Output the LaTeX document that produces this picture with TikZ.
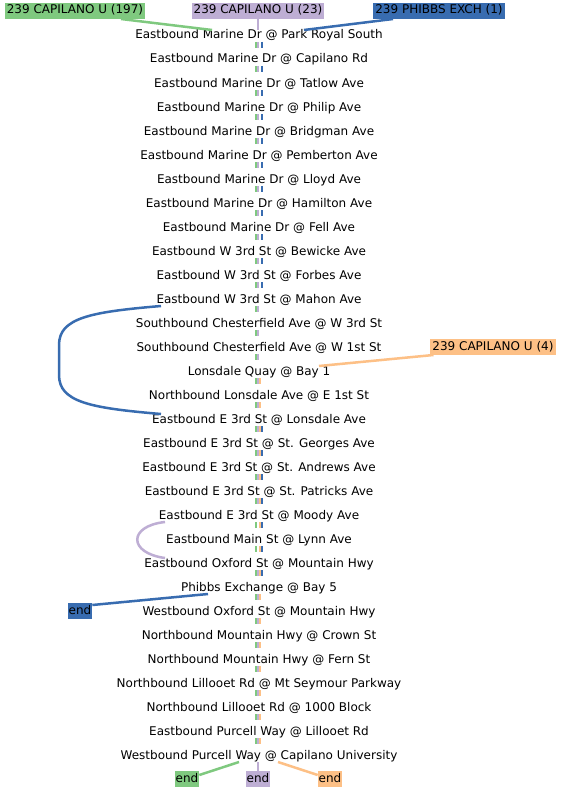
\documentclass[tikz,border=0pt]{standalone}
\usepackage{fontspec}
\setmainfont{DejaVu Sans}
\usepackage{xcolor}
\usepackage{tikz}
\definecolor{clrGreen} {HTML}{7FC97F}
\definecolor{clrPurple}{HTML}{BEAED4}
\definecolor{clrOrange}{HTML}{FDC086}
\definecolor{clrBlue}  {HTML}{386CB0}
\usetikzlibrary{positioning}

\begin{document}
\begin{tikzpicture}[
  x=1pt, y=-1pt,                             % pixel-like coordinates
  node distance   = 12pt,                    % rows 24pt apart
  every node/.style = {font=\fontsize{12}{14}\selectfont, outer sep=0pt},
  %--- node styles ---------------------------------------------------
  stopst/.style   = {inner xsep=0pt, inner ysep=0pt,
                     text height=9pt, text depth=3pt},
  labst/.style    = {inner xsep=2pt, inner ysep=2pt,
                     text height=9pt, text depth=3pt},
  %--- route styles --------------------------------------------------
  gline/.style    = {draw=clrGreen,  line width=2pt},
  pline/.style    = {draw=clrPurple, line width=2pt},
  oline/.style    = {draw=clrOrange, line width=2pt},
  bline/.style    = {draw=clrBlue,   line width=2pt},
  segst/.style    = {shorten >=6pt},
  wayst/.style    = {line width=2.5pt},
]

\useasboundingbox[fill=white] (0,0) rectangle (561,792);

% ---- Stops --------------------------------------------------------
\node[stopst] (s1) at (259,36) {Eastbound Marine Dr @ Park Royal South};
\node[stopst, below=of s1]  (s2)  {Eastbound Marine Dr @ Capilano Rd};
\node[stopst, below=of s2]  (s3)  {Eastbound Marine Dr @ Tatlow Ave};
\node[stopst, below=of s3]  (s4)  {Eastbound Marine Dr @ Philip Ave};
\node[stopst, below=of s4]  (s5)  {Eastbound Marine Dr @ Bridgman Ave};
\node[stopst, below=of s5]  (s6)  {Eastbound Marine Dr @ Pemberton Ave};
\node[stopst, below=of s6]  (s7)  {Eastbound Marine Dr @ Lloyd Ave};
\node[stopst, below=of s7]  (s8)  {Eastbound Marine Dr @ Hamilton Ave};
\node[stopst, below=of s8]  (s9)  {Eastbound Marine Dr @ Fell Ave};
\node[stopst, below=of s9]  (s10) {Eastbound W 3rd St @ Bewicke Ave};
\node[stopst, below=of s10] (s11) {Eastbound W 3rd St @ Forbes Ave};
\node[stopst, below=of s11] (s12) {Eastbound W 3rd St @ Mahon Ave};
\node[stopst, below=of s12] (s13) {Southbound Chesterfield Ave @ W 3rd St};
\node[stopst, below=of s13] (s14) {Southbound Chesterfield Ave @ W 1st St};
\node[stopst, below=of s14] (s15) {Lonsdale Quay @ Bay 1};
\node[stopst, below=of s15] (s16) {Northbound Lonsdale Ave @ E 1st St};
\node[stopst, below=of s16] (s17) {Eastbound E 3rd St @ Lonsdale Ave};
\node[stopst, below=of s17] (s18) {Eastbound E 3rd St @ St. Georges Ave};
\node[stopst, below=of s18] (s19) {Eastbound E 3rd St @ St. Andrews Ave};
\node[stopst, below=of s19] (s20) {Eastbound E 3rd St @ St. Patricks Ave};
\node[stopst, below=of s20] (s21) {Eastbound E 3rd St @ Moody Ave};
\node[stopst, below=of s21] (s22) {Eastbound Main St @ Lynn Ave};
\node[stopst, below=of s22] (s23) {Eastbound Oxford St @ Mountain Hwy};
\node[stopst, below=of s23] (s24) {Phibbs Exchange @ Bay 5};
\node[stopst, below=of s24] (s25) {Westbound Oxford St @ Mountain Hwy};
\node[stopst, below=of s25] (s26) {Northbound Mountain Hwy @ Crown St};
\node[stopst, below=of s26] (s27) {Northbound Mountain Hwy @ Fern St};
\node[stopst, below=of s27] (s28) {Northbound Lillooet Rd @ Mt Seymour Parkway};
\node[stopst, below=of s28] (s29) {Northbound Lillooet Rd @ 1000 Block};
\node[stopst, below=of s29] (s30) {Eastbound Purcell Way @ Lillooet Rd};
\node[stopst, below=of s30] (s31) {Westbound Purcell Way @ Capilano University};

% ---- Route starts and ends ----------------------------------------
\node[labst, fill=clrGreen]  (lgreen)  at (75,11)   {239 CAPILANO U (197)};
\node[labst, fill=clrPurple] (lpurple) at (258,11)  {239 CAPILANO U (23)};
\node[labst, fill=clrBlue]   (lblue)   at (439,11)  {239 PHIBBS EXCH (1)};
\node[labst, fill=clrOrange] (lorange) at (493,347) {239 CAPILANO U (4)};

\node[labst, inner xsep=1pt, fill=clrBlue]   (endB) at (80,611)  {end};
\node[labst, inner xsep=1pt, fill=clrGreen]  (endG) at (187,779) {end};
\node[labst, inner xsep=1pt, fill=clrPurple] (endP) at (258,779) {end};
\node[labst, inner xsep=1pt, fill=clrOrange] (endO) at (330,779) {end};

% ---- Segments between stops ---------------------------------------
\foreach \i [evaluate=\i as \j using int(\i+1)] in {1,...,30}
  \draw[gline, segst] ([xshift=-3pt]s\i.south) -- ([xshift=-3pt]s\j.north);
\foreach \i [evaluate=\i as \j using int(\i+1)] in {1,...,20}
  \draw[pline, segst] ([xshift=-1pt]s\i.south) -- ([xshift=-1pt]s\j.north);
\foreach \i [evaluate=\i as \j using int(\i+1)] in {23,...,30}
  \draw[pline, segst] ([xshift=-1pt]s\i.south) -- ([xshift=-1pt]s\j.north);
\foreach \i [evaluate=\i as \j using int(\i+1)] in {15,...,30}
  \draw[oline, segst] ([xshift=1pt]s\i.south) -- ([xshift=1pt]s\j.north);
\foreach \i [evaluate=\i as \j using int(\i+1)] in {1,...,11}
  \draw[bline, segst] ([xshift=3pt]s\i.south) -- ([xshift=3pt]s\j.north);
\foreach \i [evaluate=\i as \j using int(\i+1)] in {17,...,23}
  \draw[bline, segst] ([xshift=3pt]s\i.south) -- ([xshift=3pt]s\j.north);

% ---- Route lines in and out ---------------------------------------
\draw[gline, wayst] ([xshift=46pt]lgreen.south) -- ([xshift=-47pt]s1.north);
\draw[pline, wayst] (lpurple.south) -- (lpurple.south |- s1.north);
\draw[bline, wayst] ([xshift=-46pt]lblue.south) -- ([xshift=45pt]s1.north);
\draw[oline, wayst] ([xshift=3pt]lorange.south west) -- ([xshift=60pt]s15.north);

% blue detour round Lonsdale Quay
\draw[bline, wayst] ([xshift=-98pt]s12.south)
    .. controls (90,312) and (59,318) .. (59,345) -- (59,375)
    .. controls (59,402) and (90,408) .. ([xshift=-98pt]s17.north);
% purple skips Main St
\draw[pline, wayst] ([xshift=-94pt]s21.south)
    .. controls (128,526) and (128,553) .. ([xshift=-94pt]s23.north);

\draw[bline, wayst] ([xshift=-51pt]s24.south) -- ([yshift=6pt]endB.east);
\draw[gline, wayst] ([xshift=-20pt]s31.south) -- ([yshift=4pt]endG.east);
\draw[pline, wayst] (endP.north |- s31.south) -- (endP.north);
\draw[oline, wayst] ([xshift=19pt]s31.south) -- ([yshift=4pt]endO.west);

\end{tikzpicture}
\end{document}
